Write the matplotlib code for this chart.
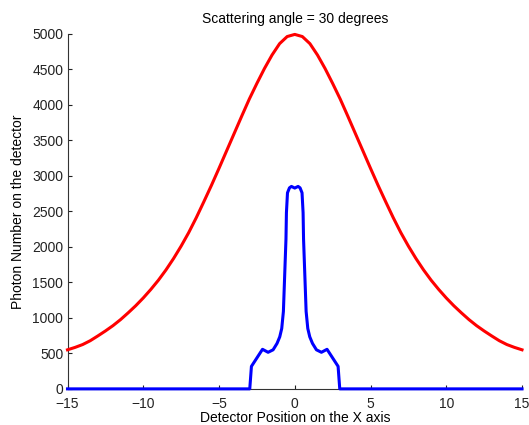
import numpy as np
import matplotlib
matplotlib.use('Agg')
import matplotlib.pyplot as plt

plt.rcParams['font.family'] = ['Liberation Sans', 'DejaVu Sans']

# red curve, every 0.5 (symmetric about 0)
redHalfX = [0, 0.5, 1.0, 1.5, 2.0, 2.5, 3.0, 3.5, 4.0, 4.5, 5.0, 5.5, 6.0, 6.5, 7.0, 7.5,
            8.0, 8.5, 9.0, 9.5, 10.0, 10.5, 11.0, 11.5, 12.0, 12.5, 13.0, 13.5, 14.0, 14.5, 15.0]
redHalfY = [4990, 4960, 4860, 4700, 4510, 4300, 4080, 3840, 3595, 3350, 3105, 2865, 2635, 2410, 2200, 2010,
            1835, 1675, 1530, 1400, 1280, 1170, 1070, 975, 890, 815, 745, 678, 624, 584, 550]
redX = [-v for v in redHalfX[::-1]] + redHalfX[1:]
redY = redHalfY[::-1] + redHalfY[1:]

# blue curve
blueX = [-15, -2.97, -2.86, -2.13, -1.76, -1.43, -1.17, -0.99, -0.86, -0.75, -0.65, -0.58, -0.55, -0.48, -0.35, -0.22, 0,
         0.22, 0.35, 0.48, 0.55, 0.58, 0.65, 0.75, 0.86, 0.99, 1.17, 1.43, 1.76, 2.13, 2.86, 2.97, 15]
blueY = [0, 0, 317, 557, 515, 550, 640, 733, 850, 1090, 1690, 2110, 2480, 2760, 2830, 2850, 2827,
         2850, 2830, 2760, 2480, 2110, 1690, 1090, 850, 733, 640, 550, 515, 557, 317, 0, 0]

fig = plt.figure(figsize=(5.29, 4.25), dpi=100)
ax = fig.add_axes([0.1276, 0.085, 0.8592, 0.8357])

ax.plot(redX, redY, color='r', lw=2.2, clip_on=False, zorder=3)
ax.plot(blueX, blueY, color='b', lw=2.2, clip_on=False, zorder=3)

ax.set_xlim(-15, 15)
ax.set_ylim(0, 5000)
ax.set_xticks(np.arange(-15, 16, 5))
ax.set_yticks(np.arange(0, 5001, 500))
ax.spines['top'].set_visible(False)
ax.spines['right'].set_visible(False)
for s in ['left', 'bottom']:
	ax.spines[s].set_color('#333333')
	ax.spines[s].set_linewidth(0.8)
ax.tick_params(direction='in', length=3, labelsize=10, colors='#222222')
ax.tick_params(axis='x', pad=5.5)
ax.tick_params(axis='y', pad=3)

ax.set_title('Scattering angle = 30 degrees', fontsize=10, pad=8)
ax.set_xlabel('Detector Position on the X axis', fontsize=10, labelpad=0)
ax.set_ylabel('Photon Number on the detector', fontsize=10, labelpad=5)

fig.savefig('out.png', dpi=100)
